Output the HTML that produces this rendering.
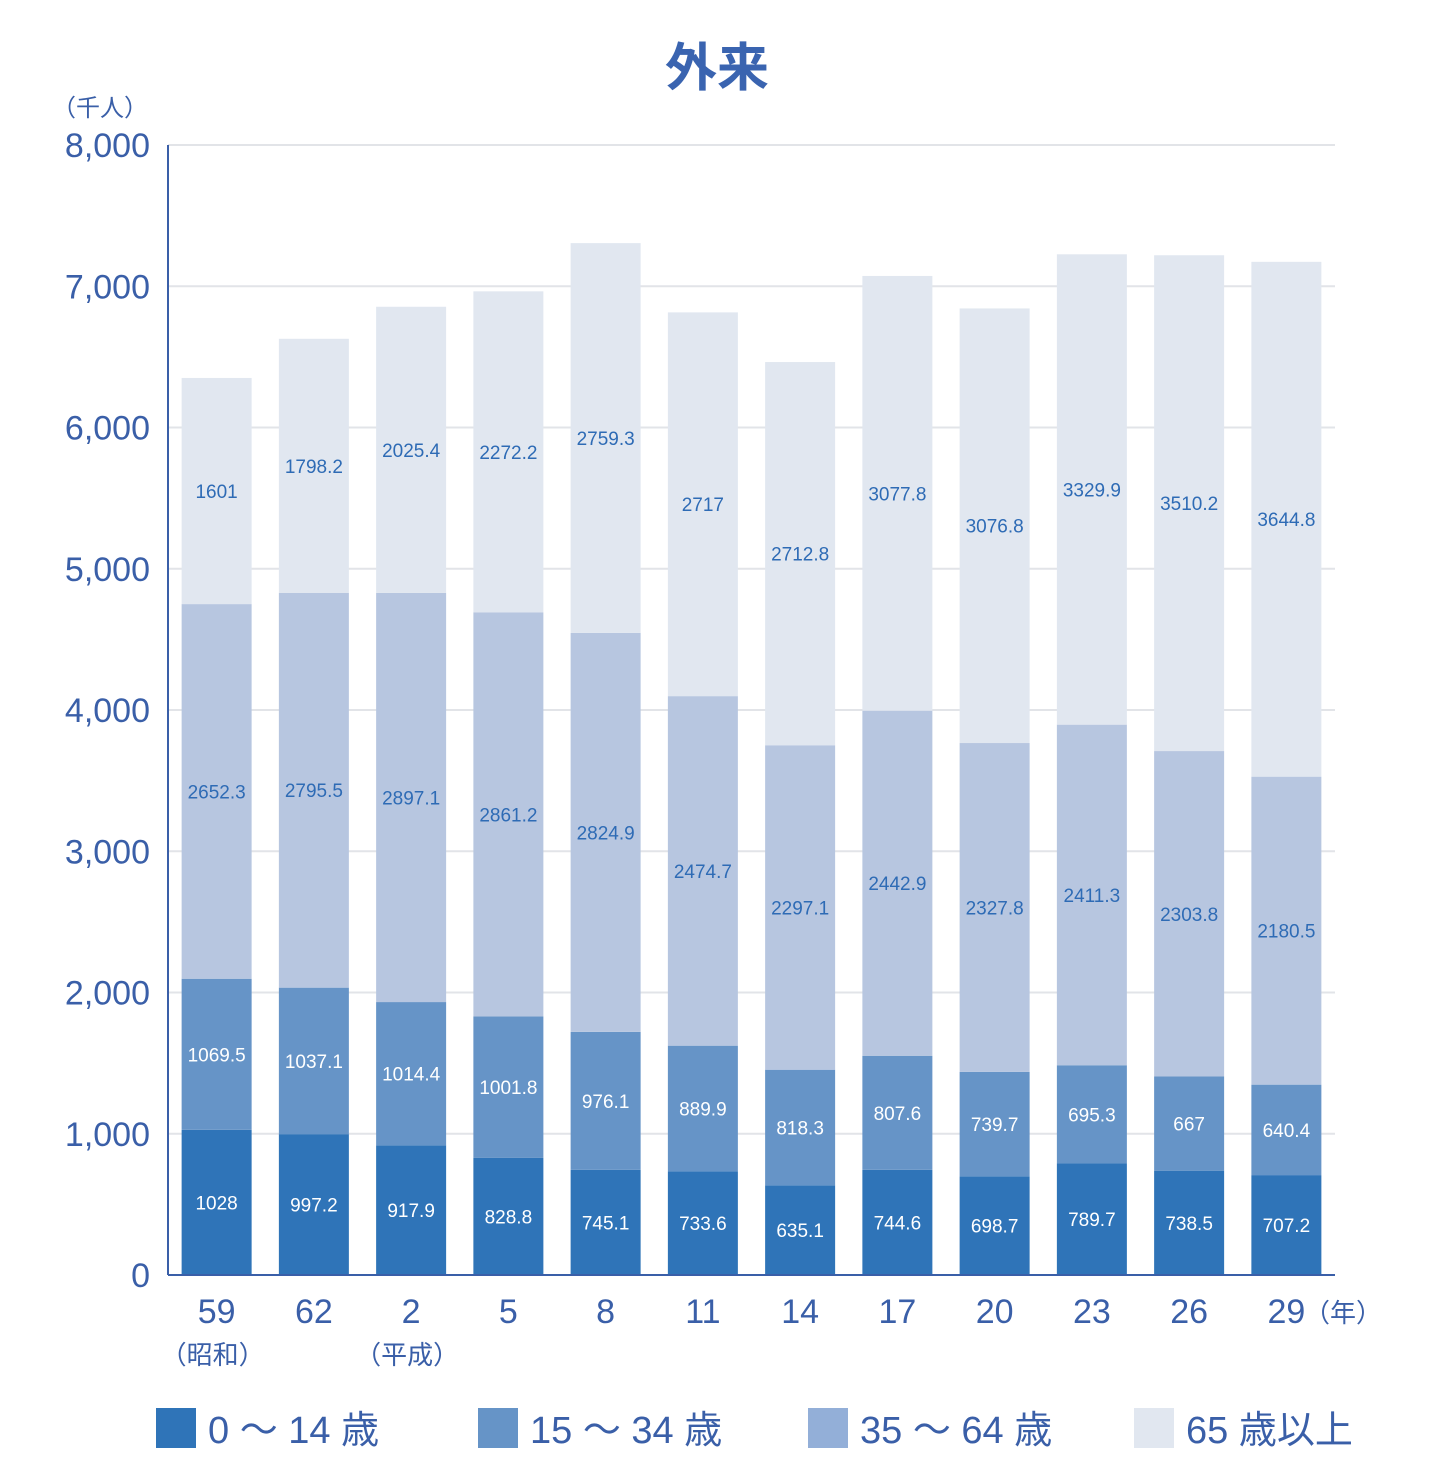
<!DOCTYPE html>
<html><head><meta charset="utf-8"><style>
html,body{margin:0;padding:0;background:#fff;width:1444px;height:1462px;overflow:hidden}
svg{font-family:"Liberation Sans","Noto Sans CJK JP",sans-serif}
</style></head><body>
<svg id="chart" width="1444" height="1462">
<text x="717" y="86" text-anchor="middle" font-size="52" font-weight="bold" fill="#3a64b0">外来</text>
<text x="100" y="116" text-anchor="middle" font-size="24" fill="#3a5fa8">（千人）</text>
<g id="grid"></g><g id="bars"></g><g id="labels"></g><g id="axes"></g><g id="legend"></g>
</svg>
<script>
const categories=["59","62","2","5","8","11","14","17","20","23","26","29"];
const subLabels=["（昭和）","","（平成）","","","","","","","","",""];
const age0to14=[1028,997.2,917.9,828.8,745.1,733.6,635.1,744.6,698.7,789.7,738.5,707.2];
const age15to34=[1069.5,1037.1,1014.4,1001.8,976.1,889.9,818.3,807.6,739.7,695.3,667,640.4];
const age35to64=[2652.3,2795.5,2897.1,2861.2,2824.9,2474.7,2297.1,2442.9,2327.8,2411.3,2303.8,2180.5];
const age65plus=[1601,1798.2,2025.4,2272.2,2759.3,2717,2712.8,3077.8,3076.8,3329.9,3510.2,3644.8];
const yTicks=[0,1000,2000,3000,4000,5000,6000,7000,8000];
const seriesNames=["0 ～ 14 歳","15 ～ 34 歳","35 ～ 64 歳","65 歳以上"];
const NS="http://www.w3.org/2000/svg";
const X0=168,X1=1335,Y0=1275,Y1=145,YMAX=8000;
const band=(X1-X0)/categories.length,BW=70;
const y=v=>Y0-(v/YMAX)*(Y0-Y1);
const xc=i=>X0+band*(i+0.5);
function mk(tag,attrs,parent){const e=document.createElementNS(NS,tag);for(const k in attrs)e.setAttribute(k,attrs[k]);document.getElementById(parent).appendChild(e);return e;}
yTicks.forEach(t=>{
 if(t>0){const l=mk("line",{x1:X0,x2:X1,y1:y(t),y2:y(t),stroke:"#e2e4e8","stroke-width":2},"grid");
 
 }
 const tx=mk("text",{x:150,y:y(t)+12,"text-anchor":"end","font-size":34,fill:"#3a5fa8"},"axes");
 tx.textContent=t.toLocaleString("en-US");
 
 
});
const series=[age0to14,age15to34,age35to64,age65plus];
const colors=["#2f74b8","#6694c7","#b7c6e0","#e1e7f0"];
const txtCol=["#fff","#fff","#2e6bb5","#2e6bb5"];
categories.forEach((c,i)=>{
 let base=0;
 series.forEach((s,k)=>{
  const v=s[i],top=base+v;
  const r=mk("rect",{x:xc(i)-BW/2,y:y(top),width:BW,height:y(base)-y(top),fill:colors[k]},"bars");
  
  
  const t=mk("text",{x:xc(i),y:(y(base)+y(top))/2+7,"text-anchor":"middle","font-size":19,fill:txtCol[k]},"labels");
  t.textContent=String(v);
  
  
  base=top;
 });
 const xl=mk("text",{x:xc(i),y:1323,"text-anchor":"middle","font-size":34,fill:"#3a5fa8"},"axes");
 xl.textContent=c;
 
 
 if(subLabels[i]){const sl=mk("text",{x:xc(i)-4,y:1364,"text-anchor":"middle","font-size":26,fill:"#3a5fa8"},"axes");
 sl.textContent=subLabels[i];
 
 }
});
const yr=mk("text",{x:1343,y:1322,"text-anchor":"middle","font-size":26,fill:"#3a5fa8"},"axes");
yr.textContent="（年）";


const ax=mk("line",{x1:X0,x2:X0,y1:Y1,y2:Y0,stroke:"#3a5fa8","stroke-width":2},"axes");


const bx=mk("line",{x1:X0,x2:X1,y1:Y0,y2:Y0,stroke:"#3a5fa8","stroke-width":2},"axes");


const lx=[156,478,808,1134],lcol=["#2f74b8","#6694c7","#93afd8","#e1e7f0"];
seriesNames.forEach((n,k)=>{
 const sw=mk("rect",{x:lx[k],y:1408,width:40,height:40,fill:lcol[k]},"legend");
 
 
 const t=mk("text",{x:lx[k]+52,y:1443,"font-size":38,fill:"#3a5fa8"},"legend");
 t.textContent=n;
 
 
});
</script>
</body></html>
